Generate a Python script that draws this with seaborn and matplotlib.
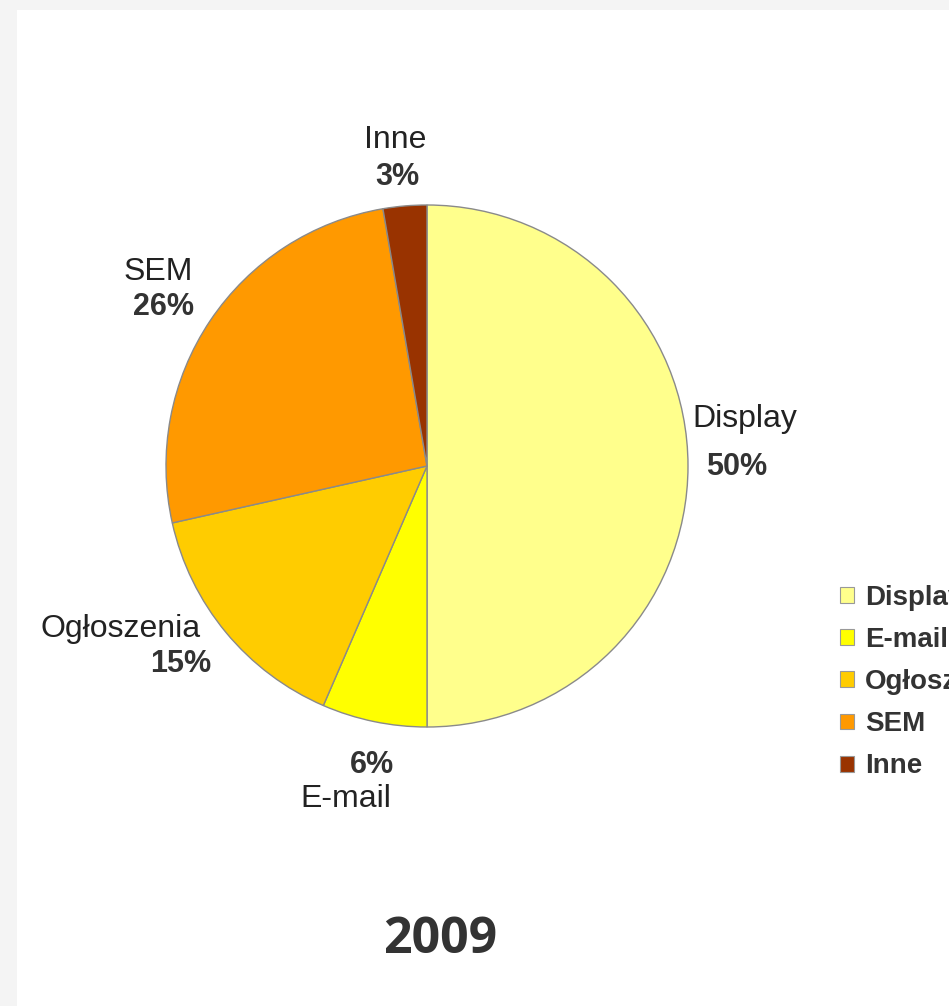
import numpy as np
import matplotlib
matplotlib.use("Agg")
import matplotlib.pyplot as plt
from matplotlib.patches import Rectangle
import seaborn as sns

# ---- data ----
categories = ["Display", "E-mail", "Ogłoszenia", "SEM", "Inne"]
shares = [50.0, 6.5, 15.0, 25.8, 2.7]
pct_labels = ["50%", "6%", "15%", "26%", "3%"]
colors_hex = ["#FFFF8C", "#FFFF00", "#FFCC00", "#FF9900", "#993300"]
year_title = "2009"

# label layout: (r_name, dtheta_name, r_pct, dtheta_pct) relative to wedge middle angle
label_layout = [
    (1.228, 7.0, 1.188, -1.7),
    (1.343, -1.7, 1.195, 1.5),
    (1.343, -10.4, 1.229, 0.3),
    (1.253, -0.9, 1.165, 4.0),
    (1.224, 0.8, 1.083, 1.2),
]

sns.set_theme(style="white")
plt.rcParams["font.family"] = ["Liberation Sans", "DejaVu Sans"]

W, H = 949, 1006
fig = plt.figure(figsize=(W / 100, H / 100), dpi=100, facecolor="#F4F4F4")
fig.patches.append(Rectangle((17 / W, 0), 1 - 17 / W, 1 - 10 / H,
                             transform=fig.transFigure, facecolor="white",
                             edgecolor="none", zorder=-10))

cx, cy, R = 427, 466, 261
ax = fig.add_axes([(cx - R) / W, (H - cy - R) / H, 2 * R / W, 2 * R / H])
ax.set_zorder(5)
ax.patch.set_alpha(0)
palette = sns.color_palette(colors_hex)
wedges, _ = ax.pie(shares, colors=palette, startangle=90, counterclock=False,
                   wedgeprops=dict(edgecolor="#8a8a8a", linewidth=1.0))
ax.set_xlim(-1, 1)
ax.set_ylim(-1, 1)
ax.set_aspect("equal")
ax.axis("off")

txt_color = "#222222"
for w, name, pct, (rn, dn, rp, dp) in zip(wedges, categories, pct_labels, label_layout):
    mid = (w.theta1 + w.theta2) / 2.0
    an = np.deg2rad(mid + dn)
    ap = np.deg2rad(mid + dp)
    ax.text(rn * np.cos(an), rn * np.sin(an), name, ha="center", va="baseline",
            fontsize=23, color=txt_color, clip_on=False)
    ax.text(rp * np.cos(ap), rp * np.sin(ap), pct, ha="center", va="baseline",
            fontsize=22, fontweight="bold", color="#333333", clip_on=False)

handles = [Rectangle((0, 0), 1, 1, facecolor=c, edgecolor="#999999", linewidth=0.8)
           for c in palette]
fig.legend(handles, categories, loc="upper left",
           bbox_to_anchor=(840 / W, 1 - 585 / H), frameon=False,
           prop=dict(weight="bold", size=20), handlelength=0.5, handleheight=0.5,
           handletextpad=0.4, labelspacing=0.58, borderpad=0, borderaxespad=0,
           labelcolor="#333333")

fig.text(440 / W, 1 - 953 / H, year_title, ha="center", va="baseline",
         fontsize=36, fontweight="bold", color="#333333", family=["Open Sans", "DejaVu Sans"])

fig.savefig("out.png", dpi=100, facecolor=fig.get_facecolor())
